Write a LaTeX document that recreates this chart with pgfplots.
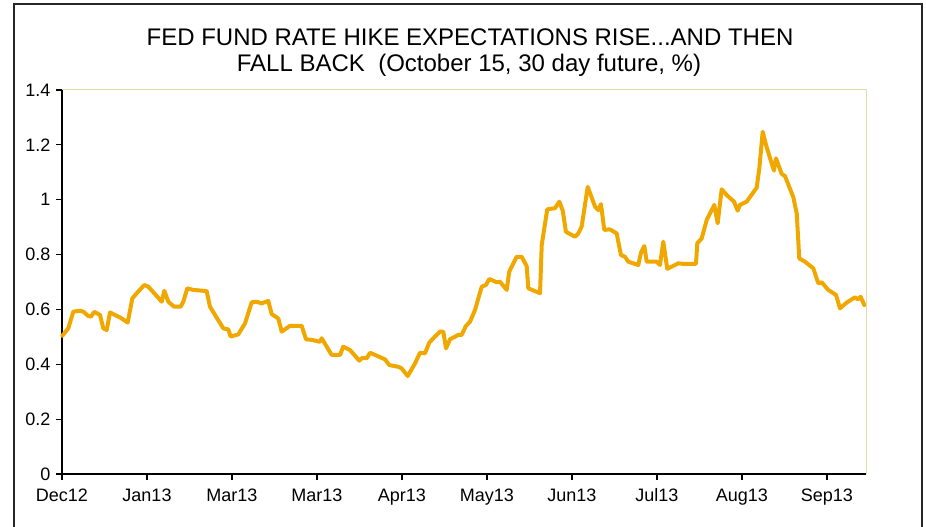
\documentclass[border=0pt]{standalone}
\usepackage{fontspec}
\setmainfont{Liberation Sans}
\usepackage{pgfplots}
\pgfplotsset{compat=1.18}
\definecolor{fedline}{RGB}{240,168,0}
\definecolor{frametan}{RGB}{228,218,168}

\begin{document}
\begin{tikzpicture}
\path[use as bounding box] (0pt,0pt) rectangle (926pt,527pt);
% outer frame (open at the bottom)
\draw[line width=1.6pt, black!85] (14pt,0pt) -- (14pt,523pt) -- (922pt,523pt) -- (922pt,0pt);
\node[anchor=base, font=\fontsize{24}{28}\selectfont] at (470pt,481pt)
  {FED FUND RATE HIKE EXPECTATIONS RISE...AND THEN};
\node[anchor=base, font=\fontsize{24}{28}\selectfont] at (469pt,455pt)
  {FALL BACK~~(October 15, 30 day future, \%)};
\begin{axis}[
  at={(62pt,53pt)}, anchor=south west,
  scale only axis, width=804pt, height=384pt,
  xmin=0, xmax=9.459, ymin=0, ymax=1.4,
  axis x line*=bottom, axis y line*=left,
  axis line style={black, line width=1.2pt},
  tick style={black, line width=1.2pt},
  tick align=outside, major tick length=6pt,
  xtick={0,1,2,3,4,5,6,7,8,9},
  xticklabels={Dec12,Jan13,Mar13,Mar13,Apr13,May13,Jun13,Jul13,Aug13,Sep13},
  ytick={0,0.2,0.4,0.6,0.8,1,1.2,1.4},
  yticklabels={0,0.2,0.4,0.6,0.8,1,1.2,1.4},
  ticklabel style={font=\fontsize{18}{20}\selectfont},
  x tick label style={yshift=-5pt},
  y tick label style={xshift=-2pt},
  clip=false,
]
\addplot[fedline, line width=4pt, line join=round, line cap=round] coordinates {
(0.004,0.504)(0.074,0.531)(0.133,0.592)(0.212,0.595)(0.251,0.592)(0.309,0.576)
(0.341,0.574)(0.380,0.591)(0.447,0.580)(0.486,0.531)(0.526,0.525)(0.565,0.589)
(0.682,0.571)(0.741,0.559)(0.773,0.552)(0.827,0.640)(0.879,0.659)(0.968,0.689)
(1.015,0.683)(1.094,0.656)(1.173,0.628)(1.204,0.668)(1.251,0.628)(1.318,0.610)
(1.396,0.610)(1.427,0.628)(1.474,0.677)(1.545,0.671)(1.702,0.667)(1.741,0.610)
(1.800,0.580)(1.898,0.531)(1.956,0.527)(1.985,0.501)(2.074,0.509)(2.153,0.549)
(2.232,0.626)(2.291,0.628)(2.349,0.622)(2.427,0.631)(2.467,0.583)(2.545,0.567)
(2.585,0.519)(2.682,0.540)(2.820,0.540)(2.871,0.491)(2.938,0.489)(3.035,0.482)
(3.055,0.495)(3.173,0.434)(3.271,0.434)(3.309,0.464)(3.388,0.452)(3.498,0.413)
(3.526,0.422)(3.585,0.422)(3.624,0.442)(3.800,0.418)(3.851,0.397)(3.956,0.391)
(3.996,0.385)(4.067,0.357)(4.153,0.403)(4.212,0.442)(4.271,0.440)(4.321,0.479)
(4.388,0.501)(4.447,0.519)(4.486,0.519)(4.518,0.458)(4.565,0.491)(4.662,0.507)
(4.702,0.507)(4.753,0.540)(4.800,0.555)(4.859,0.598)(4.938,0.683)(4.988,0.689)
(5.027,0.711)(5.114,0.699)(5.153,0.701)(5.232,0.671)(5.262,0.738)(5.349,0.792)
(5.408,0.792)(5.467,0.758)(5.486,0.677)(5.624,0.659)(5.644,0.835)(5.709,0.965)
(5.800,0.969)(5.851,0.993)(5.891,0.960)(5.929,0.883)(6.035,0.865)(6.074,0.877)
(6.114,0.902)(6.185,1.047)(6.271,0.975)(6.309,0.962)(6.341,0.984)(6.380,0.890)
(6.447,0.892)(6.526,0.877)(6.576,0.798)(6.624,0.792)(6.662,0.774)(6.780,0.762)
(6.812,0.807)(6.851,0.831)(6.879,0.774)(6.996,0.774)(7.035,0.762)(7.074,0.847)
(7.121,0.748)(7.251,0.768)(7.309,0.766)(7.459,0.766)(7.474,0.841)(7.526,0.859)
(7.585,0.926)(7.674,0.981)(7.714,0.914)(7.761,1.038)(7.820,1.017)(7.906,0.993)
(7.949,0.960)(7.976,0.981)(8.055,0.993)(8.173,1.044)(8.204,1.115)(8.244,1.248)
(8.286,1.196)(8.376,1.106)(8.400,1.151)(8.467,1.094)(8.506,1.086)(8.604,1.009)
(8.644,0.950)(8.674,0.786)(8.741,0.774)(8.839,0.750)(8.898,0.695)(8.938,0.699)
(9.015,0.671)(9.106,0.653)(9.153,0.604)(9.232,0.625)(9.329,0.644)(9.361,0.637)
(9.396,0.646)(9.439,0.616)
};
\draw[frametan, line width=1pt] (rel axis cs:0,1) -- (rel axis cs:1,1) -- (rel axis cs:1,0);
\end{axis}
\end{tikzpicture}
\end{document}
